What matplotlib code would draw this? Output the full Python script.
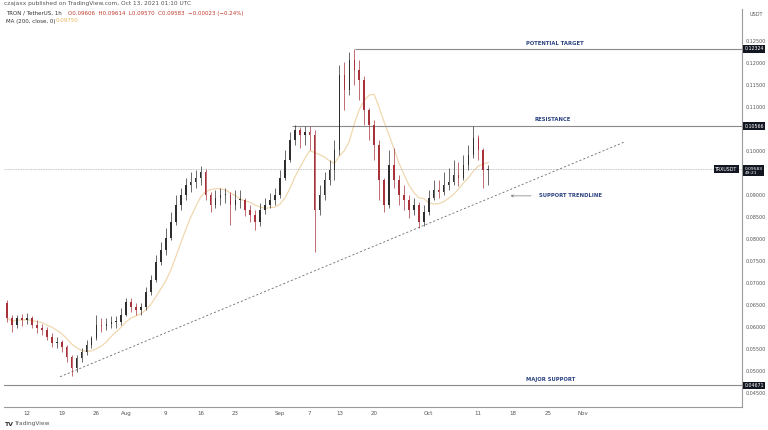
import datetime as dt

import matplotlib.pyplot as plt
import matplotlib.transforms as mtransforms
import pandas as pd

# TRX / USDT, one candle per day from Jul 8 to Oct 13 2021
start = dt.datetime(2021, 7, 8)
first_open = 0.0655
closes = [
    0.0621, 0.0605, 0.0621, 0.0616, 0.0621, 0.0605, 0.0598, 0.0593, 0.0577, 0.0564,
    0.0566, 0.0555, 0.0532, 0.0507, 0.0530, 0.0543, 0.0559, 0.0575, 0.0605, 0.0602,
    0.0607, 0.0611, 0.0611, 0.0627, 0.0657, 0.0646, 0.0639, 0.0646, 0.0680, 0.0707,
    0.0748, 0.0775, 0.0802, 0.0839, 0.0877, 0.0900, 0.0923, 0.0930, 0.0939, 0.0952,
    0.0900, 0.0877, 0.0893, 0.0900, 0.0900, 0.0877, 0.0889, 0.0889, 0.0866, 0.0855,
    0.0839, 0.0866, 0.0877, 0.0889, 0.0900, 0.0939, 0.0980, 0.1025, 0.1048, 0.1036,
    0.1043, 0.1036, 0.0866, 0.0900, 0.0934, 0.0957, 0.1002, 0.1173, 0.1139, 0.1207,
    0.1184, 0.1161, 0.1093, 0.1059, 0.1014, 0.0934, 0.0877, 0.0968, 0.0934, 0.0900,
    0.0889, 0.0866, 0.0877, 0.0839, 0.0861, 0.0893, 0.0911, 0.0907, 0.0923, 0.0930,
    0.0946, 0.0939, 0.0968, 0.0991, 0.1030, 0.1002, 0.0957, 0.09583,
]
highs = [
    0.0661, 0.0627, 0.0627, 0.0630, 0.0632, 0.0625, 0.0616, 0.0607, 0.0600, 0.0587,
    0.0577, 0.0571, 0.0559, 0.0536, 0.0536, 0.0552, 0.0571, 0.0580, 0.0627, 0.0621,
    0.0621, 0.0625, 0.0625, 0.0643, 0.0666, 0.0666, 0.0655, 0.0655, 0.0691, 0.0718,
    0.0764, 0.0793, 0.0825, 0.0861, 0.0900, 0.0916, 0.0939, 0.0952, 0.0957, 0.0966,
    0.0958, 0.0907, 0.0911, 0.0916, 0.0916, 0.0907, 0.0911, 0.0911, 0.0893, 0.0877,
    0.0866, 0.0882, 0.0893, 0.0905, 0.0916, 0.0957, 0.1002, 0.1043, 0.1059, 0.1055,
    0.1057, 0.1057, 0.1048, 0.0923, 0.0952, 0.0980, 0.1025, 0.1196, 0.1202, 0.1225,
    0.12324, 0.1207, 0.1170, 0.1098, 0.1070, 0.1025, 0.0939, 0.1002, 0.1007, 0.0946,
    0.0923, 0.0900, 0.0893, 0.0884, 0.0877, 0.0911, 0.0934, 0.0934, 0.0952, 0.0961,
    0.0980, 0.0975, 0.0991, 0.1014, 0.10566, 0.1036, 0.1007, 0.0968,
]
lows = [
    0.0611, 0.0589, 0.0598, 0.0602, 0.0607, 0.0598, 0.0587, 0.0582, 0.0571, 0.0555,
    0.0552, 0.0543, 0.0520, 0.0489, 0.0498, 0.0520, 0.0536, 0.0552, 0.0571, 0.0589,
    0.0593, 0.0598, 0.0598, 0.0605, 0.0625, 0.0634, 0.0627, 0.0627, 0.0639, 0.0672,
    0.0702, 0.0741, 0.0764, 0.0798, 0.0832, 0.0866, 0.0889, 0.0907, 0.0916, 0.0923,
    0.0889, 0.0861, 0.0870, 0.0877, 0.0882, 0.0832, 0.0866, 0.0870, 0.0852, 0.0839,
    0.0821, 0.0830, 0.0857, 0.0870, 0.0877, 0.0893, 0.0934, 0.0975, 0.1014, 0.1007,
    0.1014, 0.1002, 0.0771, 0.0855, 0.0889, 0.0923, 0.0934, 0.0990, 0.1093, 0.1127,
    0.1150, 0.1116, 0.1059, 0.1025, 0.0980, 0.0889, 0.0861, 0.0870, 0.0916, 0.0877,
    0.0866, 0.0848, 0.0855, 0.0825, 0.0830, 0.0855, 0.0889, 0.0893, 0.0900, 0.0911,
    0.0923, 0.0920, 0.0934, 0.0957, 0.0985, 0.0980, 0.0916, 0.0923,
]

# levels drawn on the chart
potential_target = 0.12324
resistance = 0.10566
last_price = 0.09583
major_support = 0.04671
target_start = dt.datetime(2021, 9, 16, 2)
resistance_start = dt.datetime(2021, 9, 3, 10)
trend_dates = [dt.datetime(2021, 7, 18, 16), dt.datetime(2021, 11, 9, 14)]
trend_prices = [0.0487, 0.1021]

tick_dates = [dt.datetime(2021, 7, 12), dt.datetime(2021, 7, 19), dt.datetime(2021, 7, 26),
              dt.datetime(2021, 8, 1), dt.datetime(2021, 8, 9), dt.datetime(2021, 8, 16),
              dt.datetime(2021, 8, 23), dt.datetime(2021, 9, 1), dt.datetime(2021, 9, 7),
              dt.datetime(2021, 9, 13), dt.datetime(2021, 9, 20), dt.datetime(2021, 10, 1),
              dt.datetime(2021, 10, 11), dt.datetime(2021, 10, 18), dt.datetime(2021, 10, 25),
              dt.datetime(2021, 11, 1)]
tick_labels = ['12', '19', '26', 'Aug', '9', '16', '23', 'Sep', '7', '13', '20', 'Oct',
               '11', '18', '25', 'Nov']
# 0.095 and 0.105 sit under the price badges, so they are left out
price_ticks = [0.045, 0.05, 0.055, 0.06, 0.065, 0.07, 0.075, 0.08, 0.085, 0.09,
               0.10, 0.11, 0.115, 0.12, 0.125]

dates = [start + dt.timedelta(days=i) for i in range(len(closes))]
opens = [first_open] + closes[:-1]
df = pd.DataFrame({'date': dates, 'open': opens, 'high': highs, 'low': lows, 'close': closes})
# MA(200) on 1h candles is roughly an 8 day average
df['ma'] = df['close'].rolling(8, min_periods=1).mean()

up_color = '#2e2e2e'
down_color = '#a8323a'
label_color = '#2b4280'
level_color = '#8a8a8a'

fig = plt.figure(figsize=(7.68, 4.30), dpi=100)
ax = fig.add_axes([4 / 768, 23 / 430, 738 / 768, 398 / 430])

colors = [up_color if c >= o else down_color for o, c in zip(df['open'], df['close'])]
ax.vlines(df['date'], df['low'], df['high'], colors=colors, lw=0.5, zorder=3)
bottoms = df[['open', 'close']].min(axis=1)
heights = (df['close'] - df['open']).abs().clip(lower=0.0002)
ax.bar(df['date'], heights, bottom=bottoms, width=0.32, color=colors, zorder=3)

ax.plot(df['date'], df['ma'], color='#f0d8b0', lw=0.9, zorder=2)

ax.plot(trend_dates, trend_prices, color='#6a6a6a', lw=0.6, ls=(0, (2.5, 2.5)), zorder=2)

x_end = dt.datetime(2021, 12, 3, 4)
ax.hlines(potential_target, target_start, x_end, color=level_color, lw=0.8)
ax.hlines(resistance, resistance_start, x_end, color=level_color, lw=0.8)
ax.axhline(major_support, color=level_color, lw=0.8)
ax.axhline(last_price, color='#b0b0b0', lw=0.6, ls=(0, (1, 1)))

ax.text(dt.datetime(2021, 10, 26, 12), potential_target + 0.0011, 'POTENTIAL TARGET',
        ha='center', va='center', fontsize=3.8, color=label_color, fontweight='bold')
ax.text(dt.datetime(2021, 10, 26, 2), resistance + 0.0016, 'RESISTANCE',
        ha='center', va='center', fontsize=3.8, color=label_color, fontweight='bold')
ax.text(dt.datetime(2021, 10, 25, 12), major_support + 0.0013, 'MAJOR SUPPORT',
        ha='center', va='center', fontsize=3.8, color=label_color, fontweight='bold')
ax.annotate('SUPPORT TRENDLINE', xy=(dt.datetime(2021, 10, 17, 12), 0.0898),
            xytext=(dt.datetime(2021, 10, 23, 8), 0.0898),
            ha='left', va='center', fontsize=3.8, color=label_color, fontweight='bold',
            arrowprops=dict(arrowstyle='->', color='#777777', lw=0.5, shrinkA=4, shrinkB=0))

ax.set_xlim(dt.datetime(2021, 7, 7, 8, 40), x_end)
ax.set_ylim(0.04182, 0.13227)

ax.set_xticks(tick_dates)
ax.set_xticklabels(tick_labels, fontsize=4.0, color='#555555')
ax.yaxis.tick_right()
ax.set_yticks(price_ticks)
ax.set_yticklabels(['%.5f' % p for p in price_ticks], fontsize=3.5, color='#555555')
ax.tick_params(axis='x', length=0, pad=3)
ax.tick_params(axis='y', length=0, pad=2.5)
for side in ['top', 'left']:
    ax.spines[side].set_visible(False)
ax.spines['right'].set_color('#9a9a9a')
ax.spines['bottom'].set_color('#9a9a9a')
ax.spines['right'].set_linewidth(0.8)
ax.spines['bottom'].set_linewidth(0.8)

# price scale badges
trans = mtransforms.blended_transform_factory(ax.transAxes, ax.transData)
badge = dict(boxstyle='square,pad=0.3', fc='#131722', ec='none')
for value in [potential_target, resistance, major_support]:
    ax.text(1.0035, value, '%.5f' % value, transform=trans, ha='left', va='center',
            fontsize=3.4, color='white', bbox=badge, zorder=5, clip_on=False)
ax.text(1.0035, last_price - 0.0003, '%.5f\n49:21' % last_price, transform=trans,
        ha='left', va='center', fontsize=3.2, color='white', bbox=badge, zorder=5,
        clip_on=False, linespacing=1.1)
ax.text(0.994, last_price, 'TRXUSDT', transform=trans, ha='right', va='center',
        fontsize=3.4, color='white', bbox=badge, zorder=5)

# header and footer
fig.text(4 / 768, 1 - 4 / 430, 'czajaxx published on TradingView.com, Oct 13, 2021 01:10 UTC',
         fontsize=4.2, color='#555555', va='center')
fig.text(6 / 768, 1 - 13 / 430, 'TRON / TetherUS, 1h', fontsize=4.0, color='#333333', va='center')
fig.text(68 / 768, 1 - 13 / 430, 'O0.09606  H0.09614  L0.09570  C0.09583  \u22120.00023 (\u22120.24%)',
         fontsize=4.0, color='#c0392b', va='center')
fig.text(6 / 768, 1 - 21 / 430, 'MA (200, close, 0)', fontsize=4.0, color='#333333', va='center')
fig.text(56 / 768, 1 - 21 / 430, '0.09750', fontsize=4.0, color='#e0b860', va='center')
fig.text(750 / 768, 1 - 14 / 430, 'USDT', fontsize=3.6, color='#555555', va='center')
fig.text(4 / 768, 1 - 424 / 430, 'TV', fontsize=4.5, color='#333333', va='center',
         fontweight='bold')
fig.text(14 / 768, 1 - 424 / 430, 'TradingView', fontsize=4.2, color='#555555', va='center')

fig.savefig('out.png', dpi=100, facecolor='white')
